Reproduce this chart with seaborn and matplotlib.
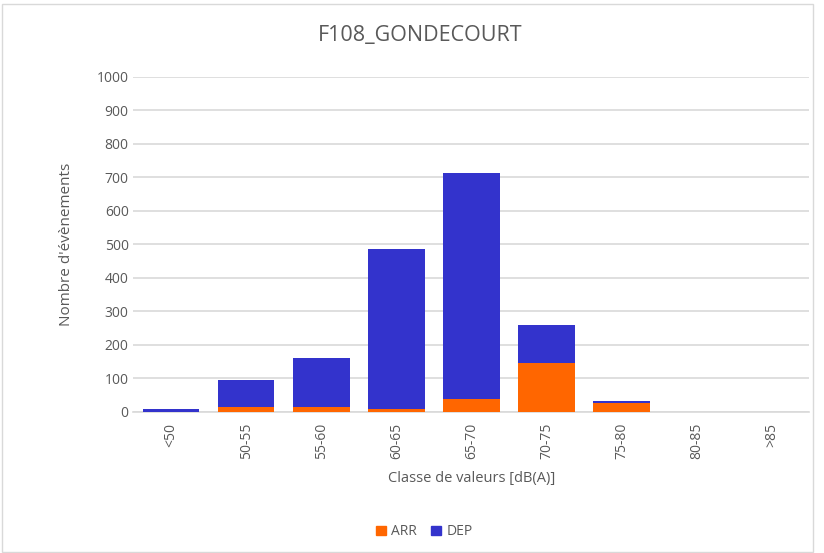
import pandas as pd
import matplotlib.pyplot as plt
import seaborn as sns
from matplotlib.patches import Patch

classes = ['<50', '50-55', '55-60', '60-65', '65-70', '70-75', '75-80', '80-85', '>85']
arr = [0, 14, 14, 10, 38, 147, 28, 0, 0]
dep = [10, 80, 146, 476, 674, 113, 6, 0, 0]

df = pd.DataFrame({'classe': classes, 'ARR': arr, 'DEP': dep})
df['total'] = df['ARR'] + df['DEP']

sns.set_style('white')
plt.rcParams['font.family'] = ['Open Sans', 'DejaVu Sans']

fig = plt.figure(figsize=(8.24, 5.53), dpi=100)
ax = fig.add_axes([0.162, 0.255, 0.82, 0.606])

# stacked: total first, ARR over it
sns.barplot(data=df, x='classe', y='total', color='#3333CC', width=0.755,
            saturation=1, linewidth=0, ax=ax, zorder=3)
sns.barplot(data=df, x='classe', y='ARR', color='#FF6600', width=0.755,
            saturation=1, linewidth=0, ax=ax, zorder=4)

ax.set_ylim(0, 1000)
ax.set_yticks(range(0, 1001, 100))
ax.set_xlim(-0.5, len(classes) - 0.5)
ax.yaxis.grid(True, color='#D9D9D9', linewidth=1.2, zorder=0)
ax.set_axisbelow(True)
for s in ['top', 'right', 'left']:
    ax.spines[s].set_visible(False)
ax.spines['bottom'].set_color('#D9D9D9')
ax.spines['bottom'].set_linewidth(1.2)

ax.tick_params(axis='both', colors='#595959', labelsize=10, length=0)
ax.tick_params(axis='x', rotation=90, pad=8)
ax.set_ylabel("Nombre d'évènements", color='#595959', fontsize=11, labelpad=16)
ax.set_xlabel('Classe de valeurs [dB(A)]', color='#595959', fontsize=10.5, labelpad=8)
fig.suptitle('F108_GONDECOURT', color='#595959', fontsize=15.5, x=0.51, y=0.955)

handles = [Patch(color='#FF6600', label='ARR'), Patch(color='#3333CC', label='DEP')]
fig.legend(handles=handles, loc='center', bbox_to_anchor=(0.515, 0.038), ncol=2,
           frameon=False, fontsize=10, labelcolor='#595959',
           handlelength=0.7, handleheight=0.7, columnspacing=1.0, handletextpad=0.4)

fig.patches.append(plt.Rectangle((0.002, 0.002), 0.985, 0.99, transform=fig.transFigure,
                                 fill=False, edgecolor='#D9D9D9', linewidth=1))

fig.savefig('out.png', dpi=100)
